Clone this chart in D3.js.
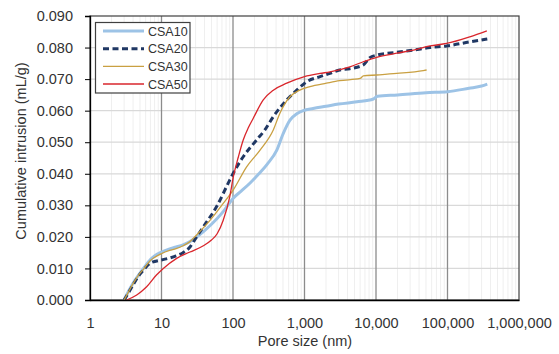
<!DOCTYPE html>
<html>
<head>
<meta charset="utf-8">
<script src="https://cdn.jsdelivr.net/npm/d3@7"></script>
<style>
  body { margin: 0; background: #fff; }
  svg { display: block; font-family: "Liberation Sans", Arial, sans-serif; }
</style>
</head>
<body>
<div id="chart"></div>
<script>
// axis ticks
const xTicks = [1, 10, 100, 1000, 10000, 100000, 1000000];
const yTicks = [0, 0.01, 0.02, 0.03, 0.04, 0.05, 0.06, 0.07, 0.08, 0.09];
const seriesNames = ["CSA10", "CSA20", "CSA30", "CSA50"];

// [pore size nm, cumulative intrusion mL/g]
const csa10 = [[3.0,0],[3.5,0.003],[4,0.0053],[5,0.0085],[5.6,0.010],[7,0.0128],[8,0.0140],[10,0.0152],
  [13,0.0162],[16,0.0168],[20,0.0175],[25,0.0185],[30,0.0197],[40,0.0220],[50,0.0240],[73,0.028],
  [100,0.0322],[130,0.0345],[172,0.037],[230,0.0400],[300,0.0430],[410,0.0475],[505,0.0528],
  [626,0.0570],[780,0.0590],[960,0.0600],[1320,0.0607],[2000,0.0614],
  [3000,0.0621],[5400,0.0628],[9200,0.0637],[10500,0.0646],[20000,0.065],[50000,0.0657],
  [100000,0.066],[200000,0.0671],[300000,0.0678],[360000,0.0684]];
const csa20 = [[3.0,0],[3.5,0.0025],[4,0.0048],[5,0.0082],[5.6,0.0095],[7,0.0117],[10,0.0127],[13,0.0133],
  [16,0.0140],[20,0.0150],[25,0.0168],[30,0.0195],[38.5,0.0232],[59,0.0296],[90,0.038],[100,0.040],
  [139,0.0454],[214,0.0507],[279,0.0539],[366,0.0581],[565,0.0634],[780,0.0665],[1080,0.0692],
  [1650,0.0708],[2270,0.0718],[3000,0.0728],[4300,0.0733],[6640,0.0745],[8200,0.0768],[10200,0.0776],
  [19500,0.0785],[33500,0.0792],[57000,0.0800],[97000,0.0805],[205000,0.0818],[360000,0.0827]];
const csa30 = [[3.0,0],[3.5,0.0028],[4,0.0052],[5,0.0085],[5.6,0.0098],[7,0.0125],[8,0.0135],[10,0.0147],
  [13,0.0157],[16,0.0163],[20,0.0172],[25,0.0185],[30,0.0203],[48,0.0253],[73,0.0306],[101,0.0349],
  [155,0.0422],[239,0.0475],[366,0.0539],[453,0.0592],[626,0.0644],[860,0.0665],[1190,0.0676],
  [2030,0.0687],[3100,0.0695],[6000,0.0702],[6640,0.0710],[10200,0.0713],[19500,0.0718],
  [45800,0.0727],[51000,0.0729]];
const csa50 = [[3.25,0],[4.5,0.0016],[6.2,0.0042],[8.5,0.0079],[10.6,0.010],[16.3,0.0132],[25,0.0152],
  [38.5,0.0172],[50,0.019],[60,0.021],[73,0.0253],[90,0.0327],[101,0.039],[119,0.0454],[139,0.0507],
  [163,0.0545],[192,0.0576],[265,0.0634],[366,0.0665],[565,0.0687],[1000,0.0708],[1650,0.0718],
  [2270,0.0723],[4300,0.0739],[6640,0.0755],[10200,0.0769],[19500,0.0782],[33500,0.0792],
  [57000,0.0805],[97000,0.0813],[205000,0.0834],[355000,0.0853]];

const seriesData = [csa10, csa20, csa30, csa50];
const colors = ["#9dc3e6", "#203864", "#c9a042", "#d9262c"];
const widths = [3, 3, 1.3, 1.3];
const dashes = [null, "6,3.5", null, null];

const width = 559, height = 354;
const svg = d3.select("#chart").append("svg")
  .attr("width", width)
  .attr("height", height);

const x = d3.scaleLog().domain([1, 1e6]).range([90, 519]);
const y = d3.scaleLinear().domain([0, 0.09]).range([300, 16]);

// minor vertical gridlines
let minor = [];
for (let p = 0; p < 6; p++) {
  for (let k = 2; k <= 9; k++) minor.push(k * Math.pow(10, p));
}
svg.append("g").selectAll("line").data(minor).enter().append("line")
  .attr("x1", d => x(d)).attr("x2", d => x(d))
  .attr("y1", y(0)).attr("y2", y(0.09))
  .attr("stroke", "#efefef").attr("stroke-width", 1);

// horizontal gridlines
svg.append("g").selectAll("line").data(yTicks.slice(1, -1)).enter().append("line")
  .attr("x1", x(1)).attr("x2", x(1e6))
  .attr("y1", d => y(d)).attr("y2", d => y(d))
  .attr("stroke", "#d9d9d9").attr("stroke-width", 1.2);

// major vertical gridlines
svg.append("g").selectAll("line").data(xTicks.slice(1, -1)).enter().append("line")
  .attr("x1", d => x(d)).attr("x2", d => x(d))
  .attr("y1", y(0)).attr("y2", y(0.09))
  .attr("stroke", "#8c8c8c").attr("stroke-width", 1.3);

// plot border
svg.append("rect")
  .attr("x", x(1)).attr("y", y(0.09))
  .attr("width", x(1e6) - x(1)).attr("height", y(0) - y(0.09))
  .attr("fill", "none").attr("stroke", "#404040").attr("stroke-width", 1.2);

// series
const line = d3.line()
  .x(d => x(d[0]))
  .y(d => y(d[1]))
  .curve(d3.curveMonotoneX);

seriesData.forEach(function(s, i) {
  svg.append("path")
    .datum(s)
    .attr("d", line)
    .attr("fill", "none")
    .attr("stroke", colors[i])
    .attr("stroke-width", widths[i])
    .attr("stroke-dasharray", dashes[i])
    .attr("stroke-linejoin", "round");
});

// axes
const yAxis = d3.axisLeft(y).tickValues(yTicks).tickSize(5).tickPadding(12)
  .tickFormat(d3.format(".3f"));
const gy = svg.append("g").attr("transform", "translate(" + x(1) + ",0)").call(yAxis);
gy.select(".domain").attr("stroke", "#000").attr("stroke-width", 1.3);
gy.selectAll(".tick line").attr("stroke", "#000");
gy.selectAll("text").attr("font-size", 14.5).attr("fill", "#333").attr("font-family", null);

const xAxis = d3.axisBottom(x).tickValues(xTicks).tickSize(0).tickPadding(18)
  .tickFormat(d3.format(","));
const gx = svg.append("g").attr("transform", "translate(0," + y(0) + ")").call(xAxis);
gx.select(".domain").attr("stroke", "#000").attr("stroke-width", 1.3);
gx.selectAll("text").attr("font-size", 14.5).attr("fill", "#333").attr("font-family", null);

// axis titles
svg.append("text")
  .attr("x", 305).attr("y", 346)
  .attr("text-anchor", "middle")
  .attr("font-size", 14.5).attr("fill", "#333")
  .text("Pore size (nm)");

svg.append("text")
  .attr("transform", "translate(26,151) rotate(-90)")
  .attr("text-anchor", "middle")
  .attr("font-size", 14.5).attr("fill", "#333")
  .text("Cumulative intrusion (mL/g)");

// legend
const legend = svg.append("g");
legend.append("rect")
  .attr("x", 95.5).attr("y", 22.5).attr("width", 94.5).attr("height", 70.5)
  .attr("fill", "#fff").attr("stroke", "#404040").attr("stroke-width", 1.2);

const legendY = d3.scalePoint().domain(seriesNames).range([31, 84]);
seriesNames.forEach(function(name, i) {
  legend.append("line")
    .attr("x1", 103).attr("x2", 144)
    .attr("y1", legendY(name)).attr("y2", legendY(name))
    .attr("stroke", colors[i])
    .attr("stroke-width", widths[i])
    .attr("stroke-dasharray", dashes[i]);
  legend.append("text")
    .attr("x", 148).attr("y", legendY(name))
    .attr("dy", "0.36em")
    .attr("font-size", 12.5).attr("fill", "#333")
    .text(name);
});
</script>
</body>
</html>
